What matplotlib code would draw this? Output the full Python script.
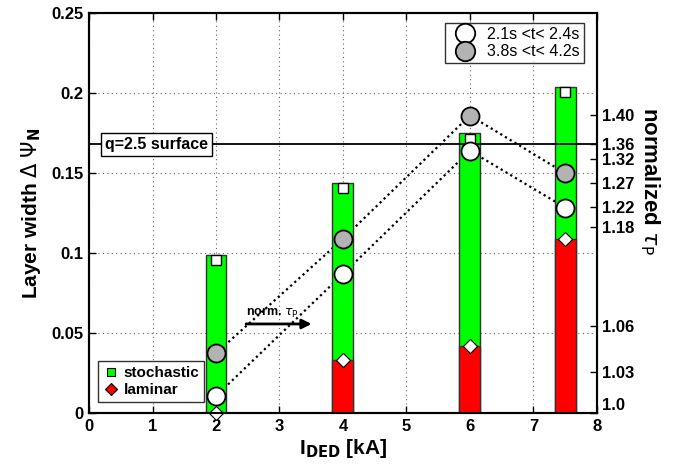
import matplotlib
matplotlib.use("Agg")
import matplotlib.pyplot as plt
from matplotlib.lines import Line2D
from matplotlib.transforms import offset_copy

plt.rcParams['font.family'] = ['Liberation Sans', 'DejaVu Sans']

# ---- data ----
current = [2, 4, 6, 7.5]
stochastic = [0.099, 0.144, 0.175, 0.204]
laminar = [0.0, 0.033, 0.042, 0.109]
tau_early = [0.0108, 0.087, 0.164, 0.1285]
tau_late = [0.0375, 0.109, 0.186, 0.150]
q_surface = 0.168
tau_tick_pos = [0.0, 0.0256, 0.0546, 0.1166, 0.129, 0.144, 0.159, 0.168, 0.1865]
tau_tick_labels = ['1.0', '1.03', '1.06', '1.18', '1.22', '1.27', '1.32', '1.36', '1.40']
xticks = [0, 1, 2, 3, 4, 5, 6, 7, 8]
yticks = [0, 0.05, 0.1, 0.15, 0.2, 0.25]
ytick_labels = ['0', '0.05', '0.1', '0.15', '0.2', '0.25']

fig = plt.figure(figsize=(6.76, 4.66), dpi=100)
ax = fig.add_axes([0.1317, 0.1131, 0.7513, 0.8589])

bw = 0.33
ax.bar(current, stochastic, width=bw, color='#00ff00', edgecolor='#333333', linewidth=1.0, zorder=2)
ax.bar(current, laminar, width=bw, color='#ff0000', edgecolor='#333333', linewidth=1.0, zorder=2)

# dotted connection lines (behind bars)
ax.plot(current, tau_early, linestyle=(0, (1, 1.5)), color='black', linewidth=1.6, zorder=1.5)
ax.plot(current, tau_late, linestyle=(0, (1, 1.5)), color='black', linewidth=1.6, zorder=1.5)

# markers
sq_tr = offset_copy(ax.transData, fig=fig, x=0, y=-4, units='points')
ax.plot(current, stochastic, linestyle='none', marker='s', markersize=7, markerfacecolor='white',
        markeredgecolor='black', markeredgewidth=1.0, transform=sq_tr, zorder=4)
ax.plot(current, laminar, linestyle='none', marker='D', markersize=7.5, markerfacecolor='white',
        markeredgecolor='black', markeredgewidth=0.8, zorder=4, clip_on=False)
ax.plot(current, tau_early, linestyle='none', marker='o', markersize=13, markerfacecolor='white',
        markeredgecolor='black', markeredgewidth=1.3, zorder=5)
ax.plot(current, tau_late, linestyle='none', marker='o', markersize=13, markerfacecolor='#b3b3b3',
        markeredgecolor='black', markeredgewidth=1.3, zorder=5)

# q=2.5 surface line
ax.axhline(q_surface, color='black', linewidth=1.3, zorder=3)
ax.text(0.25, q_surface, 'q=2.5 surface', fontsize=11.5, fontweight='bold', va='center', ha='left',
        bbox=dict(boxstyle='square,pad=0.25', facecolor='white', edgecolor='black', linewidth=1.0), zorder=6)

# norm tau arrow
ax.annotate('', xy=(3.55, 0.0558), xytext=(2.43, 0.0558),
            arrowprops=dict(arrowstyle='-|>', color='black', lw=2.0, mutation_scale=14), zorder=6)
ax.text(2.47, 0.0585, r'norm. $\tau_\mathrm{P}$', fontsize=9, fontweight='bold', ha='left', va='bottom')

ax.set_xlim(0, 8)
ax.set_ylim(0, 0.25)
ax.set_xticks(xticks)
ax.set_xticklabels([str(v) for v in xticks], fontsize=12, fontweight='bold')
ax.set_yticks(yticks)
ax.set_yticklabels(ytick_labels, fontsize=12, fontweight='bold')
ax.tick_params(direction='in', length=5, width=1, top=True, right=False, pad=4)
ax.grid(True, linestyle=(0, (1, 3)), color='#666666', linewidth=0.8, zorder=0)
ax.set_axisbelow(True)
for s in ax.spines.values():
    s.set_linewidth(1.5)

ax.set_xlabel(r'I$_\mathbf{DED}$ [kA]', fontsize=15, fontweight='bold', labelpad=2)
ax.set_ylabel(r'Layer width $\Delta$ $\Psi_\mathbf{N}$', fontsize=15, fontweight='bold', labelpad=6)

# right axis
ax2 = ax.twinx()
ax2.set_ylim(0, 0.25)
ax2.set_yticks(tau_tick_pos)
ax2.set_yticklabels(tau_tick_labels, fontsize=12, fontweight='bold')
ax2.tick_params(direction='in', length=5, width=1, pad=4)
labels = ax2.get_yticklabels()
labels[0].set_va('bottom')
ax2.set_ylabel(r'normalized $\tau_\mathrm{P}$', fontsize=16, fontweight='bold', rotation=270,
               va='center', ha='center')
ax2.yaxis.set_label_coords(1.105, 0.58)
for s in ax2.spines.values():
    s.set_linewidth(1.5)

# legends
h1 = [Line2D([], [], linestyle='none', marker='o', markersize=14, markerfacecolor='white', markeredgecolor='black', markeredgewidth=1.3),
      Line2D([], [], linestyle='none', marker='o', markersize=14, markerfacecolor='#b3b3b3', markeredgecolor='black', markeredgewidth=1.3)]
leg1 = ax2.legend(h1, ['2.1s <t< 2.4s', '3.8s <t< 4.2s'], loc='upper right', fontsize=11.5,
                  frameon=True, fancybox=False, edgecolor='black', handletextpad=0.4, borderpad=0.25,
                  labelspacing=0.15, bbox_to_anchor=(0.99, 0.995))
leg1.get_frame().set_linewidth(1.0)
h2 = [Line2D([], [], linestyle='none', marker='s', markersize=6, markerfacecolor='#00ff00', markeredgecolor='black', markeredgewidth=0.8),
      Line2D([], [], linestyle='none', marker='D', markersize=6, markerfacecolor='#ff0000', markeredgecolor='black', markeredgewidth=0.8)]
leg2 = ax2.legend(h2, ['stochastic', 'laminar'], loc='lower left', prop=dict(size=11, weight='bold'),
                  frameon=True, fancybox=False, edgecolor='black', handletextpad=0.3, borderpad=0.35,
                  labelspacing=0.2, handlelength=1.0, bbox_to_anchor=(0.003, 0.008))
leg2.get_frame().set_linewidth(1.0)
ax2.add_artist(leg1)

fig.savefig('out.png', dpi=100)
